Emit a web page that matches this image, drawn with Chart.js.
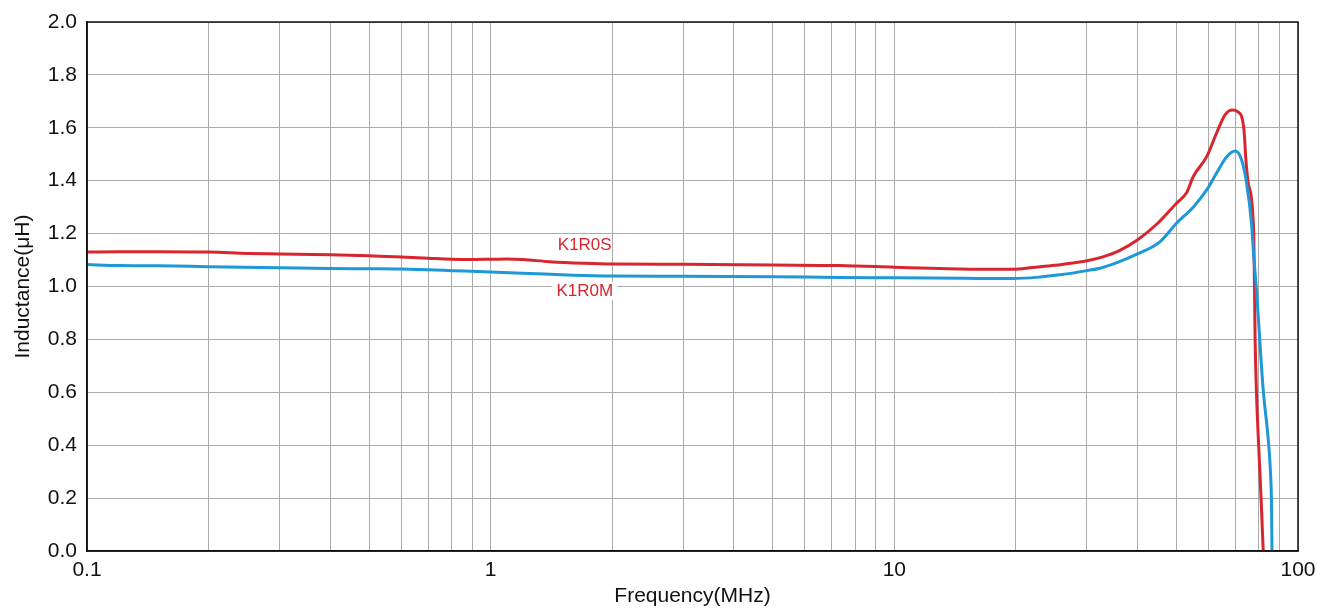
<!DOCTYPE html>
<html lang="en">
<head>
  <meta charset="UTF-8">
  <title>Inductance vs Frequency</title>
  <script src="https://cdn.jsdelivr.net/npm/chart.js"></script>
  <style>
    body {
      margin: 0;
      padding: 0;
      background-color: white;
    }
    canvas {
      display: block;
    }
  </style>
</head>
<body>
  <canvas id="inductanceChart" width="1317" height="610"></canvas>

  <script>
    // K1R0S (red)
    const freqS = [0.1, 0.12, 0.15, 0.2, 0.25, 0.3, 0.4, 0.5, 0.6, 0.7, 0.8, 0.9, 1.0, 1.1, 1.2, 1.4, 1.7, 2.0, 3.0, 5.0,
      7.3, 10, 13, 17, 19.7, 22, 25, 28, 30, 33, 36, 40, 45, 50, 53, 55, 59.4, 62.8, 65.9, 68.7, 71, 73.5, 74.2, 75.3,
      77.7, 78.3, 78.9, 79.9, 81.0, 82.0];
    const indS = [1.130, 1.131, 1.131, 1.130, 1.125, 1.123, 1.120, 1.116, 1.112, 1.107, 1.103, 1.102, 1.103, 1.104, 1.102, 1.094, 1.088, 1.085, 1.084, 1.081,
      1.079, 1.073, 1.068, 1.065, 1.065, 1.072, 1.080, 1.090, 1.097, 1.113, 1.135, 1.176, 1.240, 1.315, 1.355, 1.415, 1.491, 1.579, 1.648, 1.667, 1.660, 1.590, 1.490, 1.390,
      1.200, 0.800, 0.600, 0.400, 0.200, 0.0];

    // K1R0M (blue)
    const freqM = [0.1, 0.12, 0.15, 0.2, 0.3, 0.4, 0.5, 0.6, 0.7, 0.8, 1.0, 1.3, 1.6, 2.0, 3.0, 5.0, 7.3, 10, 15, 19.7,
      23, 26, 30, 32.3, 36, 40, 45.5, 50, 55, 59.4, 62.8, 66.6, 70, 72.5, 74.6, 76.7, 77.7, 78.9, 80.4, 82.0,
      84.4, 85.5, 86.0, 86.2];
    const indM = [1.083, 1.079, 1.078, 1.075, 1.071, 1.068, 1.067, 1.066, 1.063, 1.060, 1.055, 1.048, 1.043, 1.040, 1.039, 1.037, 1.034, 1.033, 1.031, 1.030,
      1.036, 1.045, 1.060, 1.069, 1.093, 1.123, 1.169, 1.239, 1.300, 1.365, 1.428, 1.491, 1.512, 1.478, 1.390, 1.239, 1.113, 0.987, 0.798, 0.609,
      0.420, 0.294, 0.167, 0.0];

    const xTicks = [0.1, 0.2, 0.3, 0.4, 0.5, 0.6, 0.7, 0.8, 0.9, 1, 2, 3, 4, 5, 6, 7, 8, 9, 10, 20, 30, 40, 50, 60, 70, 80, 90, 100];
    const xLabels = [0.1, 1, 10, 100];

    // curve names, placed in data units
    const curveLabels = [
      { text: 'K1R0S', x: 1.71, y: 1.157, box: false },
      { text: 'K1R0M', x: 1.71, y: 0.983, box: true }
    ];

    const RED = '#d8262e';
    const BLUE = '#1e98d6';
    const GRID = '#ababab';
    const FONT = '"Liberation Sans", Arial, Helvetica, sans-serif';

    const toPoints = (xs, ys) => xs.map((x, i) => ({ x: x, y: ys[i] }));

    // frame round the plot + curve names
    const framePlugin = {
      id: 'frame',
      afterDatasetsDraw(chart) {
        const ctx = chart.ctx;
        const xs = chart.scales.x, ys = chart.scales.y;
        ctx.save();
        ctx.font = '17px ' + FONT;
        ctx.textAlign = 'center';
        ctx.textBaseline = 'middle';
        curveLabels.forEach(l => {
          const px = xs.getPixelForValue(l.x);
          const py = ys.getPixelForValue(l.y);
          if (l.box) {
            const w = ctx.measureText(l.text).width;
            ctx.fillStyle = 'white';
            ctx.fillRect(px - w / 2 - 4, py - 9, w + 8, 18);
          }
          ctx.fillStyle = RED;
          ctx.fillText(l.text, px, py);
        });
        ctx.restore();
      },
      afterDraw(chart) {
        const a = chart.chartArea;
        const ctx = chart.ctx;
        ctx.save();
        ctx.strokeStyle = '#111';
        ctx.lineWidth = 1.5;
        ctx.strokeRect(a.left, a.top, a.right - a.left, a.bottom - a.top);
        ctx.restore();
      }
    };

    new Chart(document.getElementById('inductanceChart'), {
      type: 'scatter',
      data: {
        datasets: [{
          label: 'K1R0M',
          data: toPoints(freqM, indM),
          borderColor: BLUE,
          borderWidth: 3,
          showLine: true,
          pointRadius: 0,
          cubicInterpolationMode: 'monotone'
        }, {
          label: 'K1R0S',
          data: toPoints(freqS, indS),
          borderColor: RED,
          borderWidth: 3,
          showLine: true,
          pointRadius: 0,
          cubicInterpolationMode: 'monotone'
        }]
      },
      options: {
        responsive: false,
        animation: false,
        layout: { padding: { top: 22, right: 19, left: 0, bottom: 0 } },
        plugins: {
          legend: { display: false },
          tooltip: { enabled: false }
        },
        scales: {
          x: {
            type: 'logarithmic',
            min: 0.1,
            max: 100,
            afterBuildTicks: (scale) => {
              scale.ticks = xTicks.map(v => ({ value: v }));
            },
            afterFit: (scale) => {
              scale.height = 59;
              scale.paddingLeft = 0;
              scale.paddingRight = 0;
            },
            grid: { color: GRID, lineWidth: 1, drawTicks: false },
            border: { color: '#111', width: 1.5 },
            ticks: {
              autoSkip: false,
              maxRotation: 0,
              padding: 7,
              color: '#111',
              font: { family: FONT, size: 21 },
              callback: (v) => xLabels.includes(v) ? String(v) : ''
            },
            title: {
              display: true,
              text: 'Frequency(MHz)',
              color: '#111',
              font: { family: FONT, size: 21 },
              padding: { top: 0, bottom: 1 }
            }
          },
          y: {
            min: 0,
            max: 2,
            afterFit: (scale) => {
              scale.width = 87;
              scale.paddingTop = 0;
              scale.paddingBottom = 0;
            },
            grid: { color: GRID, lineWidth: 1, drawTicks: false },
            border: { color: '#111', width: 1.5 },
            ticks: {
              stepSize: 0.2,
              padding: 10,
              color: '#111',
              font: { family: FONT, size: 21 },
              callback: (v) => v.toFixed(1)
            },
            title: {
              display: true,
              text: 'Inductance(\u03bcH)',
              color: '#111',
              font: { family: FONT, size: 21 },
              padding: { top: 11, bottom: 0 }
            }
          }
        }
      },
      plugins: [framePlugin]
    });
  </script>
</body>
</html>
